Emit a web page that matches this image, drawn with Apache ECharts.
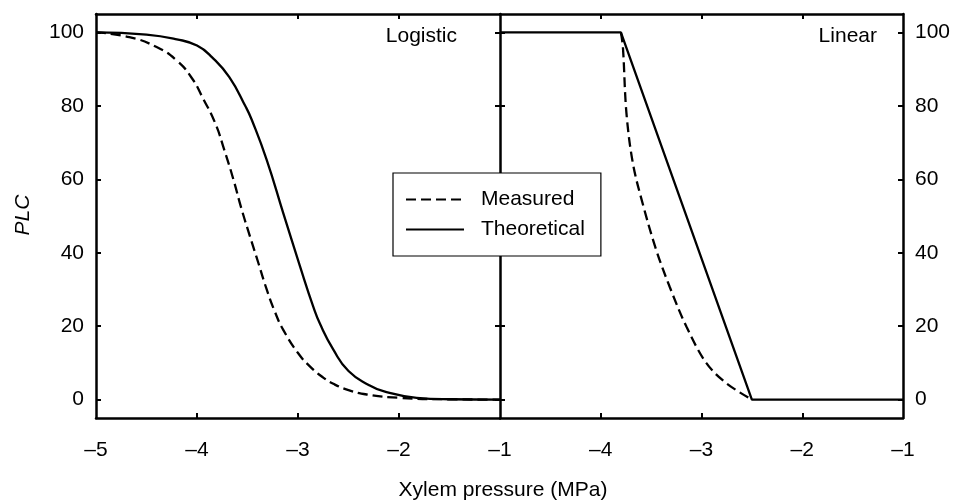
<!DOCTYPE html>
<html>
<head>
<meta charset="utf-8">
<script src="https://cdn.jsdelivr.net/npm/echarts@6/dist/echarts.min.js"></script>
<style>
  html, body { margin: 0; padding: 0; background: #fff; }
  #chart { width: 954px; height: 501px; }
</style>
</head>
<body>
<div id="chart"></div>
<script>
// ---- Data ----
var seriesNames = ['Measured', 'Theoretical'];
var panelLabels = ['Logistic', 'Linear'];
var xTitle = 'Xylem pressure (MPa)';
var yTitle = 'PLC';

var yTickValues = [0, 20, 40, 60, 80, 100];
var xTicksLeftLabels = [-5, -4, -3, -2, -1];
var xTicksRightLabels = [-4, -3, -2, -1];
var xTickMarks = [-4, -3, -2];

// Logistic panel
var logisticMeasured = [
  [-5, 100], [-4.67, 98.7], [-4.4, 96], [-4.2, 92.3], [-4.05, 87.5],
  [-3.94, 82], [-3.82, 75.3], [-3.73, 68], [-3.64, 60], [-3.56, 52],
  [-3.475, 44.4], [-3.39, 37], [-3.31, 30], [-3.23, 24], [-3.146, 19],
  [-3.0, 12.7], [-2.88, 9], [-2.75, 6], [-2.65, 4.3], [-2.5, 2.6],
  [-2.32, 1.4], [-2.0, 0.5], [-1.5, 0.1], [-1, 0]
];
var logisticTheoretical = [
  [-5, 100], [-4.5, 99.4], [-4.2, 98.1], [-4.0, 96.4], [-3.85, 93.2],
  [-3.68, 87.8], [-3.515, 79.6], [-3.458, 76.2], [-3.31, 65.3], [-3.146, 50.8],
  [-2.98, 36.3], [-2.85, 25.4], [-2.78, 20.5], [-2.65, 13.6], [-2.5, 7.8],
  [-2.3, 4], [-2.155, 2.3], [-1.825, 0.5], [-1.5, 0.1], [-1, 0]
];
// Linear panel
var linearMeasured = [
  [-3.8, 100], [-3.78, 96], [-3.745, 78], [-3.68, 64.2], [-3.58, 53],
  [-3.45, 40.8], [-3.317, 30.8], [-3.15, 19.9], [-2.953, 10], [-2.755, 4.5],
  [-2.5, 0]
];
var linearTheoretical = [
  [-5, 100], [-3.8, 100], [-2.5, 0], [-1, 0]
];

// ---- Chart ----
var FONT = 'Liberation Sans, Arial, Helvetica, sans-serif';
var FS = 21;
function dashFmt(v) { return String(v).replace('-', '\u2013'); }

var lineW = 2.3;
function axisLineStyle(show) {
  return { show: show, onZero: false, lineStyle: { color: '#000', width: 2.5 } };
}

function xAxisDef(grid, pos, labels) {
  return {
    type: 'value', gridIndex: grid, position: pos, min: -5, max: -1, interval: 1,
    axisLine: axisLineStyle(true),
    axisTick: { show: true, inside: true, length: 5, customValues: xTickMarks, lineStyle: { color: '#000', width: 2 } },
    axisLabel: labels ? { show: true, customValues: labels, formatter: dashFmt, color: '#000',
      fontFamily: FONT, fontSize: FS, margin: 22 } : { show: false },
    splitLine: { show: false }
  };
}
function yAxisDef(grid, pos, withLabels, showLine) {
  return {
    type: 'value', gridIndex: grid, position: pos, min: -5, max: 105,
    axisLine: axisLineStyle(showLine),
    axisTick: { show: true, inside: true, length: 5, customValues: yTickValues, lineStyle: { color: '#000', width: 2 } },
    axisLabel: withLabels ? { show: true, customValues: yTickValues, color: '#000',
      fontFamily: FONT, fontSize: FS, margin: 12 } : { show: false },
    splitLine: { show: false }
  };
}
var dash = [10, 5];

function lineSeries(name, xi, yi, data, type, smooth) {
  return {
    name: name, type: 'line', xAxisIndex: xi, yAxisIndex: yi, data: data,
    symbol: 'none', symbolSize: 0, showSymbol: false, smooth: smooth,
    lineStyle: { color: '#000', width: lineW, type: type },
    itemStyle: { color: '#000' }
  };
}

var option = {
  animation: false,
  backgroundColor: '#fff',
  grid: [
    { left: 96, top: 14, width: 404, height: 404 },
    { left: 500, top: 14, width: 403, height: 404 }
  ],
  xAxis: [
    xAxisDef(0, 'bottom', xTicksLeftLabels),
    xAxisDef(0, 'top', null),
    xAxisDef(1, 'bottom', xTicksRightLabels),
    xAxisDef(1, 'top', null)
  ],
  yAxis: [
    yAxisDef(0, 'left', true, true),
    yAxisDef(0, 'right', false, true),
    yAxisDef(1, 'right', true, true),
    yAxisDef(1, 'left', false, false)
  ],
  legend: {
    data: seriesNames,
    left: 393, top: 173,
    orient: 'vertical',
    backgroundColor: '#fff',
    borderColor: '#000', borderWidth: 1.2, borderRadius: 0,
    padding: [16, 16, 16, 12],
    itemWidth: 58, itemHeight: 14, itemGap: 9,
    itemStyle: { opacity: 0 },
    textStyle: { color: '#000', fontFamily: FONT, fontSize: FS, lineHeight: 21, padding: [0, 0, 0, 12] },
    selectedMode: false
  },
  series: [
    lineSeries(seriesNames[0], 0, 0, logisticMeasured, dash, 0.5),
    lineSeries(seriesNames[1], 0, 0, logisticTheoretical, 'solid', 0.5),
    lineSeries(seriesNames[0], 2, 2, linearMeasured, dash, 0.35),
    lineSeries(seriesNames[1], 2, 2, linearTheoretical, 'solid', false)
  ],
  graphic: [
    { type: 'text', x: 457, y: 36, style: { text: panelLabels[0], font: FS + 'px ' + FONT, fill: '#000', textAlign: 'right', textVerticalAlign: 'middle' } },
    { type: 'text', x: 877, y: 36, style: { text: panelLabels[1], font: FS + 'px ' + FONT, fill: '#000', textAlign: 'right', textVerticalAlign: 'middle' } },
    { type: 'text', x: 503, y: 490, style: { text: xTitle, font: FS + 'px ' + FONT, fill: '#000', textAlign: 'center', textVerticalAlign: 'middle' } },
    { type: 'text', x: 23, y: 215, rotation: Math.PI / 2, style: { text: yTitle, font: 'italic ' + FS + 'px ' + FONT, fill: '#000', textAlign: 'center', textVerticalAlign: 'middle' } }
  ]
};

var chart = echarts.init(document.getElementById('chart'), null, { renderer: 'canvas' });
chart.setOption(option);
</script>
</body>
</html>
